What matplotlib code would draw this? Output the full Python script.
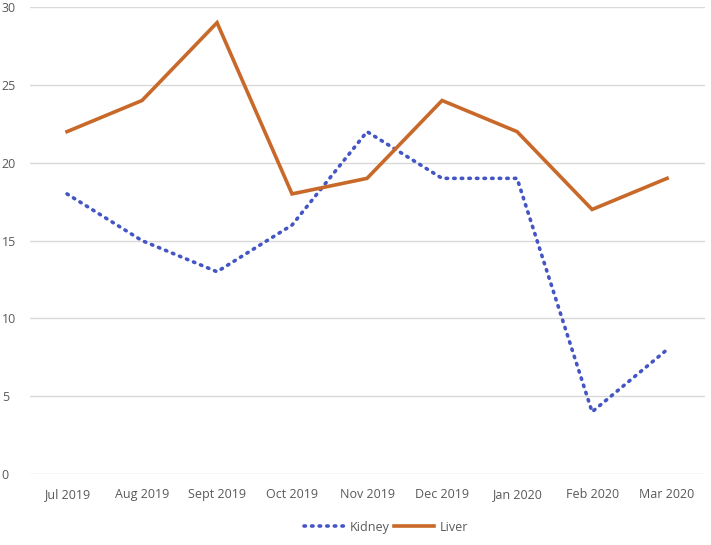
import matplotlib.pyplot as plt

months = ["Jul 2019", "Aug 2019", "Sept 2019", "Oct 2019", "Nov 2019",
          "Dec 2019", "Jan 2020", "Feb 2020", "Mar 2020"]
kidney = [18, 15, 13, 16, 22, 19, 19, 4, 8]
liver = [22, 24, 29, 18, 19, 24, 22, 17, 19]

plt.rcParams['font.family'] = ['Open Sans', 'DejaVu Sans']

fig = plt.figure(figsize=(7.11, 5.45), dpi=100)
ax = fig.add_axes([0.0415, 0.130, 0.9495, 0.857])

x = range(len(months))
ax.plot(x, kidney, color="#4455C4", linewidth=2.6, linestyle=(0, (0.4, 1.7)),
        dash_capstyle="round", label="Kidney")
ax.plot(x, liver, color="#C8692A", linewidth=2.6, label="Liver",
        solid_joinstyle="miter")

ax.set_xlim(-0.5, len(months) - 0.5)
ax.set_ylim(0, 30)
ax.set_yticks(range(0, 31, 5))
ax.set_xticks(list(x))
ax.set_xticklabels(months)
ax.grid(axis="y", color="#D9D9D9", linewidth=1)
ax.set_axisbelow(True)
for s in ax.spines.values():
    s.set_visible(False)
ax.tick_params(length=0, labelsize=9, colors="#595959")
ax.tick_params(axis="y", pad=20)
ax.tick_params(axis="x", pad=10)
for lbl in ax.get_yticklabels():
    lbl.set_horizontalalignment("left")

fig.legend(loc="center", bbox_to_anchor=(0.543, 0.033), ncol=2, frameon=False,
           fontsize=9, handlelength=3.2, columnspacing=0.4, handletextpad=0.4,
           labelcolor="#595959")

fig.savefig("out.png", dpi=100)
